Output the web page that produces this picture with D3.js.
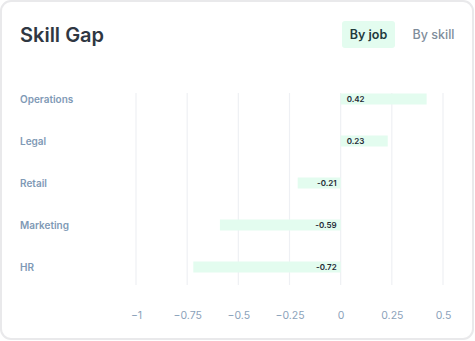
<!DOCTYPE html>
<html>
<head>
<meta charset="utf-8">
<script src="https://cdn.jsdelivr.net/npm/d3@7"></script>
<style>
  body { margin: 0; background: #fff; font-family: Inter, "Open Sans", sans-serif; }
  #chart { width: 475px; height: 341px; }
</style>
</head>
<body>
<div id="chart"></div>
<script>
// chart data
const categories = ['Operations', 'Legal', 'Retail', 'Marketing', 'HR'];
const gapValues = [0.42, 0.23, -0.21, -0.59, -0.72];
const tickValues = [-1, -0.75, -0.5, -0.25, 0, 0.25, 0.5];
const tabs = ['By job', 'By skill'];

const W = 475, H = 341;
const svg = d3.select('#chart').append('svg')
    .attr('width', W)
    .attr('height', H);

// card
svg.append('rect')
    .attr('x', 1).attr('y', 1)
    .attr('width', W - 3).attr('height', H - 3)
    .attr('rx', 10)
    .attr('fill', '#fff')
    .attr('stroke', '#e9e9eb')
    .attr('stroke-width', 2);

svg.append('text')
    .attr('x', 20).attr('y', 42)
    .attr('font-size', 20)
    .attr('font-weight', 600)
    .attr('fill', '#2f3742')
    .text('Skill Gap');

// tab buttons
svg.append('rect')
    .attr('x', 342).attr('y', 21)
    .attr('width', 53).attr('height', 27)
    .attr('rx', 3)
    .attr('fill', '#e3fcef');

svg.append('text')
    .attr('x', 368.5).attr('y', 39)
    .attr('text-anchor', 'middle')
    .attr('font-size', 12.5).attr('font-weight', 600)
    .attr('fill', '#1f3a3d')
    .text(tabs[0]);

svg.append('text')
    .attr('x', 433.5).attr('y', 39)
    .attr('text-anchor', 'middle')
    .attr('font-size', 12.5).attr('font-weight', 500)
    .attr('fill', '#7e8c9a')
    .text(tabs[1]);

// scales
const x = d3.scaleLinear().domain([-1, 0.5]).range([136, 443]);
const y = d3.scalePoint().domain(categories).range([99, 267]);
const barH = 11;

// grid
svg.append('g')
    .selectAll('line')
    .data(tickValues)
    .join('line')
    .attr('x1', d => x(d)).attr('x2', d => x(d))
    .attr('y1', 93).attr('y2', 285)
    .attr('stroke', '#eef0f4')
    .attr('stroke-width', 1.2);

// bars
svg.append('g')
    .selectAll('rect')
    .data(categories)
    .join('rect')
    .attr('x', (d, i) => Math.min(x(0), x(gapValues[i])))
    .attr('y', d => y(d) - barH / 2)
    .attr('width', (d, i) => Math.abs(x(gapValues[i]) - x(0)))
    .attr('height', barH)
    .attr('fill', '#e3fcef');

// value labels
svg.append('g')
    .selectAll('text')
    .data(categories)
    .join('text')
    .attr('x', (d, i) => gapValues[i] >= 0 ? x(0) + 6 : x(0) - 4)
    .attr('y', d => y(d))
    .attr('dy', '0.35em')
    .attr('text-anchor', (d, i) => gapValues[i] >= 0 ? 'start' : 'end')
    .attr('font-size', 8)
    .attr('font-weight', 600)
    .attr('fill', '#1e2a36')
    .text((d, i) => gapValues[i]);

// category labels
svg.append('g')
    .selectAll('text')
    .data(categories)
    .join('text')
    .attr('x', 20)
    .attr('y', d => y(d))
    .attr('dy', '0.35em')
    .attr('font-size', 10)
    .attr('font-weight', 600)
    .attr('fill', '#7f9ab6')
    .text(d => d);

// x axis
const axis = svg.append('g')
    .attr('transform', 'translate(0,315)')
    .call(d3.axisBottom(x).tickValues(tickValues).tickSize(0).tickPadding(0)
        .tickFormat(d => String(d).replace('-', '\u2212')));
axis.select('.domain').remove();
axis.selectAll('text')
    .attr('dy', '0.35em')
    .attr('font-family', 'Inter, sans-serif')
    .attr('font-size', 10.5)
    .attr('fill', '#8ba2ba');
</script>
</body>
</html>
